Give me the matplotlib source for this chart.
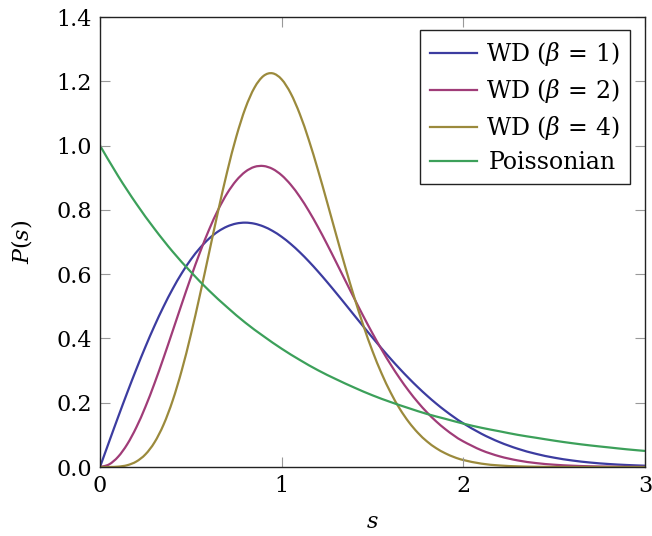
import numpy as np
import matplotlib
matplotlib.use("Agg")
import matplotlib.pyplot as plt
from matplotlib.path import Path
from matplotlib.patches import PathPatch
from matplotlib.lines import Line2D

plt.rcParams['font.family'] = ['DejaVu Serif']
plt.rcParams['mathtext.fontset'] = 'dejavuserif'

# spacings s, fine steps up to 2 then coarser
s_fine = [0.00, 0.05, 0.10, 0.15, 0.20, 0.25, 0.30, 0.35, 0.40, 0.45, 0.50, 0.55, 0.60, 0.65, 0.70,
          0.75, 0.80, 0.85, 0.90, 0.95, 1.00, 1.05, 1.10, 1.15, 1.20, 1.25, 1.30, 1.35, 1.40, 1.45,
          1.50, 1.55, 1.60, 1.65, 1.70, 1.75, 1.80, 1.85, 1.90, 1.95, 2.00, 2.10, 2.20, 2.30, 2.40,
          2.50, 2.60, 2.70, 2.80, 2.90, 3.00]

wd1 = [0.0, 0.0784, 0.1559, 0.2315, 0.3044, 0.3739, 0.4391, 0.4993, 0.5541, 0.6029, 0.6454, 0.6812,
       0.7104, 0.7327, 0.7483, 0.7574, 0.7602, 0.7570, 0.7483, 0.7345, 0.7162, 0.6938, 0.6680, 0.6393,
       0.6083, 0.5755, 0.5415, 0.5068, 0.4717, 0.4369, 0.4025, 0.3690, 0.3366, 0.3055, 0.2760, 0.2481,
       0.2220, 0.1976, 0.1752, 0.1546, 0.1358, 0.1033, 0.0772, 0.0567, 0.0409, 0.0290, 0.0202, 0.0138,
       0.0093, 0.0062, 0.0040]

wd2 = [0.0, 0.0081, 0.0320, 0.0709, 0.1233, 0.1871, 0.2602, 0.3398, 0.4231, 0.5073, 0.5896, 0.6673,
       0.7380, 0.7999, 0.8514, 0.8911, 0.9186, 0.9337, 0.9364, 0.9274, 0.9076, 0.8782, 0.8405, 0.7961,
       0.7465, 0.6930, 0.6371, 0.5804, 0.5240, 0.4688, 0.4158, 0.3656, 0.3188, 0.2758, 0.2365, 0.2012,
       0.1698, 0.1421, 0.1181, 0.0973, 0.0796, 0.0521, 0.0331, 0.0204, 0.0122, 0.0071, 0.0040, 0.0022,
       0.0012, 0.0006, 0.0003]

wd4 = [0.0, 0.0001, 0.0011, 0.0056, 0.0170, 0.0393, 0.0766, 0.1319, 0.2067, 0.3007, 0.4116, 0.5351,
       0.6654, 0.7956, 0.9185, 1.0272, 1.1159, 1.1799, 1.2166, 1.2248, 1.2059, 1.1623, 1.0978, 1.0165,
       0.9237, 0.8242, 0.7224, 0.6225, 0.5275, 0.4396, 0.3604, 0.2911, 0.2314, 0.1811, 0.1397, 0.1062,
       0.0795, 0.0587, 0.0428, 0.0306, 0.0217, 0.0104, 0.0047, 0.0020, 0.0008, 0.0003, 0.0001, 0.0,
       0.0, 0.0, 0.0]

s_poi = [0.0, 0.1, 0.2, 0.3, 0.4, 0.5, 0.6, 0.7, 0.8, 0.9, 1.0, 1.1, 1.2, 1.3, 1.4, 1.5, 1.6, 1.7,
         1.8, 1.9, 2.0, 2.1, 2.2, 2.3, 2.4, 2.5, 2.6, 2.7, 2.8, 2.9, 3.0]
poisson = [1.000, 0.905, 0.819, 0.741, 0.670, 0.607, 0.549, 0.497, 0.449, 0.407, 0.368, 0.333, 0.301,
           0.273, 0.247, 0.223, 0.202, 0.183, 0.165, 0.150, 0.135, 0.122, 0.111, 0.100, 0.091, 0.082,
           0.074, 0.067, 0.061, 0.055, 0.050]

labels = [r'WD ($\beta\,=\,1$)', r'WD ($\beta\,=\,2$)', r'WD ($\beta\,=\,4$)', 'Poissonian']
colors = ['#3c3ca0', '#a03c78', '#9b8a3c', '#3ca05a']


def smooth_path(x, y):
    # catmull-rom style bezier through the points, like pgfplots "smooth"
    pts = np.column_stack([np.asarray(x, float), np.asarray(y, float)])
    n = len(pts)
    verts = [pts[0]]
    codes = [Path.MOVETO]
    for i in range(n - 1):
        p0 = pts[max(i - 1, 0)]
        p1 = pts[i]
        p2 = pts[i + 1]
        p3 = pts[min(i + 2, n - 1)]
        verts += [p1 + (p2 - p0) / 6.0, p2 - (p3 - p1) / 6.0, p2]
        codes += [Path.CURVE4] * 3
    return Path(verts, codes)


fig = plt.figure(figsize=(6.52, 5.36), dpi=100)
ax = fig.add_axes([100 / 652, 69 / 536, 545 / 652, 450 / 536])

series = [(s_fine, wd1), (s_fine, wd2), (s_fine, wd4), (s_poi, poisson)]
handles = []
for (xs, ys), c, lab in zip(series, colors, labels):
    ax.add_patch(PathPatch(smooth_path(xs, ys), facecolor='none', edgecolor=c, lw=1.6))
    handles.append(Line2D([], [], color=c, lw=1.6, label=lab))

ax.set_xlim(0, 3)
ax.set_ylim(0, 1.4)
ax.set_xticks([0, 1, 2, 3])
ax.set_xticklabels(['0', '1', '2', '3'])
ax.set_yticks(np.arange(0, 1.41, 0.2))
ax.set_yticklabels(['%.1f' % v for v in np.arange(0, 1.41, 0.2)])
ax.tick_params(direction='in', top=True, right=True, length=7, width=0.8, color='#999999',
               labelsize=16, pad=6)
for sp in ax.spines.values():
    sp.set_linewidth(1.0)
    sp.set_color('#222222')

ax.set_xlabel(r'$s$', fontsize=16, labelpad=10)
ax.set_ylabel(r'$P(s)$', fontsize=16, labelpad=16)

leg = ax.legend(handles=handles, loc='upper right', fontsize=17, fancybox=False,
                edgecolor='#222222', framealpha=1, handlelength=2.0, handletextpad=0.35,
                labelspacing=0.38, borderpad=0.42, borderaxespad=0,
                bbox_to_anchor=(0.972, 0.971))
leg.get_frame().set_linewidth(1.0)

# center the legend labels in their column
fig.canvas.draw()
r = fig.canvas.get_renderer()
widths = [t.get_window_extent(r).width for t in leg.get_texts()]
wmax = max(widths)
for t, w in zip(leg.get_texts(), widths):
    t.set_x((wmax - w) / 2)

fig.savefig('out.png', dpi=100)
